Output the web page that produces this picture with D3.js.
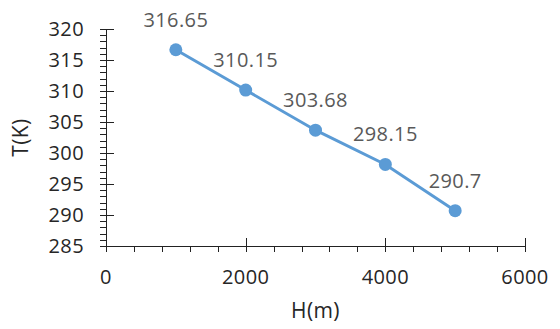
<!DOCTYPE html>
<html>
<head>
<meta charset="utf-8">
<script src="https://cdn.jsdelivr.net/npm/d3@7"></script>
<style>
  body { margin: 0; background: #fff; }
  svg { display: block; font-family: "Open Sans", sans-serif; }
  text { letter-spacing: 0.4px; }
</style>
</head>
<body>
<svg id="chart" width="560" height="329"></svg>
<script>
// data
const heights = [1000, 2000, 3000, 4000, 5000];
const temps = [316.65, 310.15, 303.68, 298.15, 290.7];
const labels = ["316.65", "310.15", "303.68", "298.15", "290.7"];
const xTicks = [0, 2000, 4000, 6000];
const yTicks = [285, 290, 295, 300, 305, 310, 315, 320];

const svg = d3.select("#chart");
const plotL = 106, plotR = 525, plotT = 29, plotB = 246;

const x = d3.scaleLinear().domain([0, 6000]).range([plotL, plotR]);
const y = d3.scaleLinear().domain([285, 320]).range([plotB, plotT]);

const axisColor = "#222";
const textColor = "#262626";
const fs = 20;
const g = svg.append("g");

// y axis
g.append("line").attr("x1", plotL + 0.5).attr("x2", plotL + 0.5).attr("y1", plotT).attr("y2", plotB + 5)
  .attr("stroke", axisColor).attr("stroke-width", 1);
g.selectAll(".ymin").data(d3.range(285, 321, 1)).enter().append("line")
  .attr("x1", plotL - 6).attr("x2", plotL)
  .attr("y1", d => Math.round(y(d)) + 0.5).attr("y2", d => Math.round(y(d)) + 0.5)
  .attr("stroke", axisColor);
g.selectAll(".ymaj").data(yTicks).enter().append("line")
  .attr("x1", plotL - 6).attr("x2", plotL + 8)
  .attr("y1", d => Math.round(y(d)) + 0.5).attr("y2", d => Math.round(y(d)) + 0.5)
  .attr("stroke", axisColor);
g.selectAll(".ylab").data(yTicks).enter().append("text")
  .attr("x", 84).attr("y", d => y(d)).attr("dy", "0.35em")
  .attr("text-anchor", "end").attr("font-size", fs).attr("fill", textColor)
  .text(d => d);

// x axis
g.append("line").attr("x1", plotL).attr("x2", plotR).attr("y1", plotB + 0.5).attr("y2", plotB + 0.5)
  .attr("stroke", axisColor);
g.selectAll(".xmin").data(d3.range(0, 6001, 400)).enter().append("line")
  .attr("x1", d => Math.round(x(d)) + 0.5).attr("x2", d => Math.round(x(d)) + 0.5)
  .attr("y1", plotB).attr("y2", plotB + 6)
  .attr("stroke", axisColor);
g.selectAll(".xmaj").data(xTicks).enter().append("line")
  .attr("x1", d => Math.round(x(d)) + 0.5).attr("x2", d => Math.round(x(d)) + 0.5)
  .attr("y1", plotB - 8).attr("y2", plotB + 6)
  .attr("stroke", axisColor);
g.selectAll(".xlab").data(xTicks).enter().append("text")
  .attr("x", d => x(d)).attr("y", 284)
  .attr("text-anchor", "middle").attr("font-size", fs).attr("fill", textColor)
  .text(d => d);

// axis titles
svg.append("text").attr("x", x(3000)).attr("y", 318)
  .attr("text-anchor", "middle").attr("font-size", 21).attr("fill", textColor)
  .text("H(m)");
svg.append("text").attr("transform", `translate(28,${(plotT + plotB) / 2}) rotate(-90)`)
  .attr("text-anchor", "middle").attr("font-size", 21).attr("fill", textColor)
  .text("T(K)");

// series
const pts = heights.map((h, i) => ({ h, t: temps[i], label: labels[i] }));
const line = d3.line().x(d => x(d.h)).y(d => y(d.t));
svg.append("path").datum(pts).attr("d", line)
  .attr("fill", "none").attr("stroke", "#5B9BD5").attr("stroke-width", 3);
svg.selectAll(".pt").data(pts).enter().append("circle")
  .attr("cx", d => x(d.h)).attr("cy", d => y(d.t)).attr("r", 6.5)
  .attr("fill", "#5B9BD5");
svg.selectAll(".dl").data(pts).enter().append("text")
  .attr("x", d => x(d.h)).attr("y", d => y(d.t) - 23)
  .attr("text-anchor", "middle").attr("font-size", fs).attr("fill", "#595959")
  .text(d => d.label);
</script>
</body>
</html>
